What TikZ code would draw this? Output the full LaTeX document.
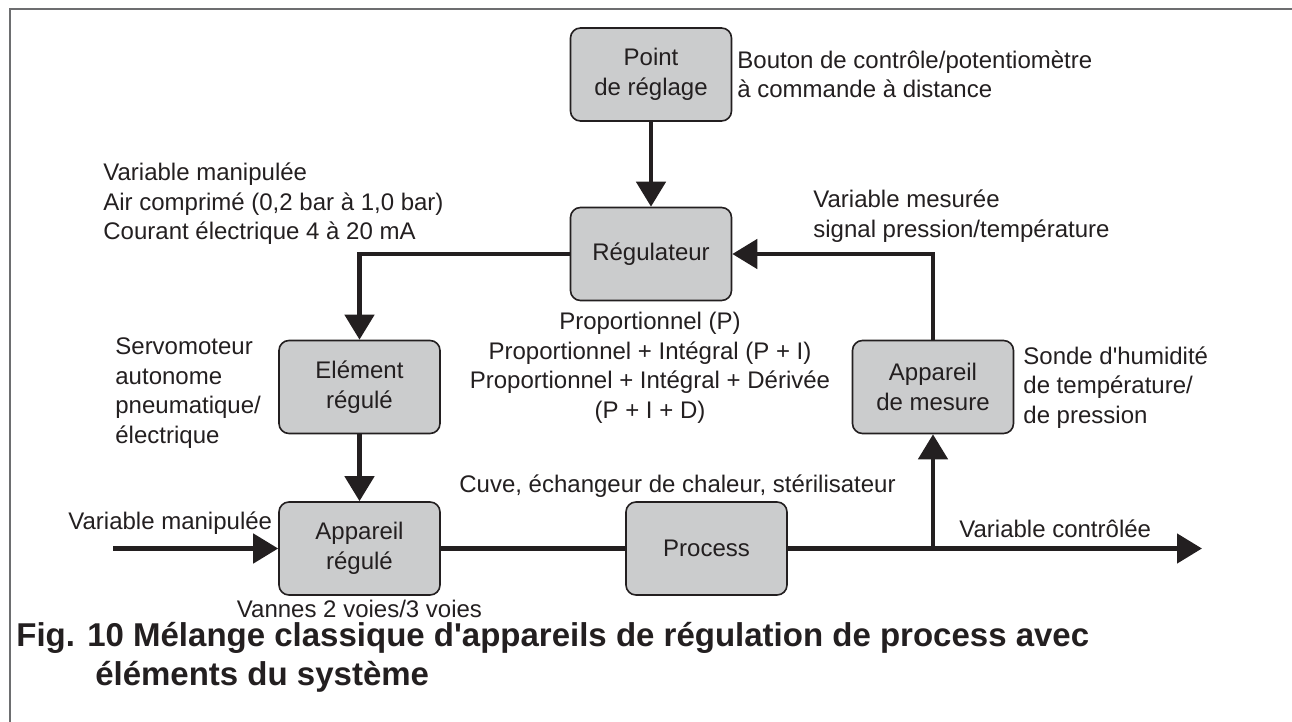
\documentclass[tikz,border=0pt]{standalone}
\usepackage{fontspec}
\setmainfont{Liberation Sans}[Ligatures=TeXOff]
\usepackage{tikz}
\usetikzlibrary{arrows.meta,positioning}
\definecolor{encre}{HTML}{231F20}
\definecolor{gris}{HTML}{CBCCCD}
\definecolor{cadre}{HTML}{6D6E70}

\begin{document}
\begin{tikzpicture}[x=0.5pt,y=-0.5pt,font=\fontsize{12}{14.75}\selectfont,text=encre,
  bloc/.style={draw=encre,line width=0.8pt,fill=gris,rounded corners=5pt,minimum width=80.5pt,minimum height=46.5pt,align=center,inner sep=0pt},
  fleche/.style={draw=encre,line width=2.35pt,-{Triangle[length=12.5pt,width=14.5pt]}},
  liaison/.style={draw=encre,line width=2.35pt},
  note/.style={inner sep=0pt,align=left,anchor=base west}]
\useasboundingbox (0,0) rectangle (1292,722);
\draw[cadre,line width=1pt] (10,722) -- (10,9) -- (1292,9);
% blocs
\node[bloc] (pt) at (651,74.5) {Point\\de réglage};
\node[bloc] (reg) at (651,254) {Régulateur};
\node[bloc] (elem) at (359.5,387) {Elément\\régulé};
\node[bloc] (app) at (359.5,548.5) {Appareil\\régulé};
\node[bloc] (proc) at (706.5,548.5) {Process};
\node[bloc] (mes) at (933,387) {Appareil\\de mesure};
\coordinate (entree) at (113,548.5);
\coordinate (sortie) at (1202,548.5);
\coordinate (branche) at (mes.south |- proc.east);
% liaisons
\draw[fleche] (pt) -- (reg);
\draw[fleche] (reg.west) -| (elem.north);
\draw[fleche] (elem) -- (app);
\draw[fleche] (entree) -- (app.west);
\draw[liaison] (app) -- (proc);
\draw[fleche] (proc.east) -- (sortie);
\draw[fleche] (branche) -- (mes.south);
\draw[fleche] (mes.north) |- (reg.east);
% textes (ancre sur la ligne de base de la derniere ligne)
\node[note] (tbouton) at (737,98) {Bouton de contrôle/potentiomètre\\à commande à distance};
\node[note] (tvarman) at (103,240) {Variable manipulée\\Air comprimé (0,2 bar à 1,0 bar)\\Courant électrique 4 à 20 mA};
\node[note] (tvarmes) at (813,237) {Variable mesurée\\signal pression/température};
\node[inner sep=0pt,align=center,anchor=base] (tpid) at (650,418) {Proportionnel (P)\\Proportionnel + Intégral (P + I)\\Proportionnel + Intégral + Dérivée\\(P + I + D)};
\node[note] (tservo) at (115,443) {Servomoteur\\autonome\\pneumatique/\\électrique};
\node[note] (tsonde) at (1023,423) {Sonde d'humidité\\de température/\\de pression};
\node[note] (tentree) at (68,529) {Variable manipulée};
\node[note] (tcuve) at (459,492) {Cuve, échangeur de chaleur, stérilisateur};
\node[note] (tsortie) at (959,537) {Variable contrôlée};
\node[inner sep=0pt,anchor=base] (tvannes) at (359.5,617) {Vannes 2 voies/3 voies};
\node[note,font=\bfseries\fontsize{16.5}{19.5}\selectfont] (legende) at (16,685) {Fig. 10 Mélange classique d'appareils de régulation de process avec\\\phantom{Fig. }\hspace{4pt}éléments du système};
\end{tikzpicture}
\end{document}
